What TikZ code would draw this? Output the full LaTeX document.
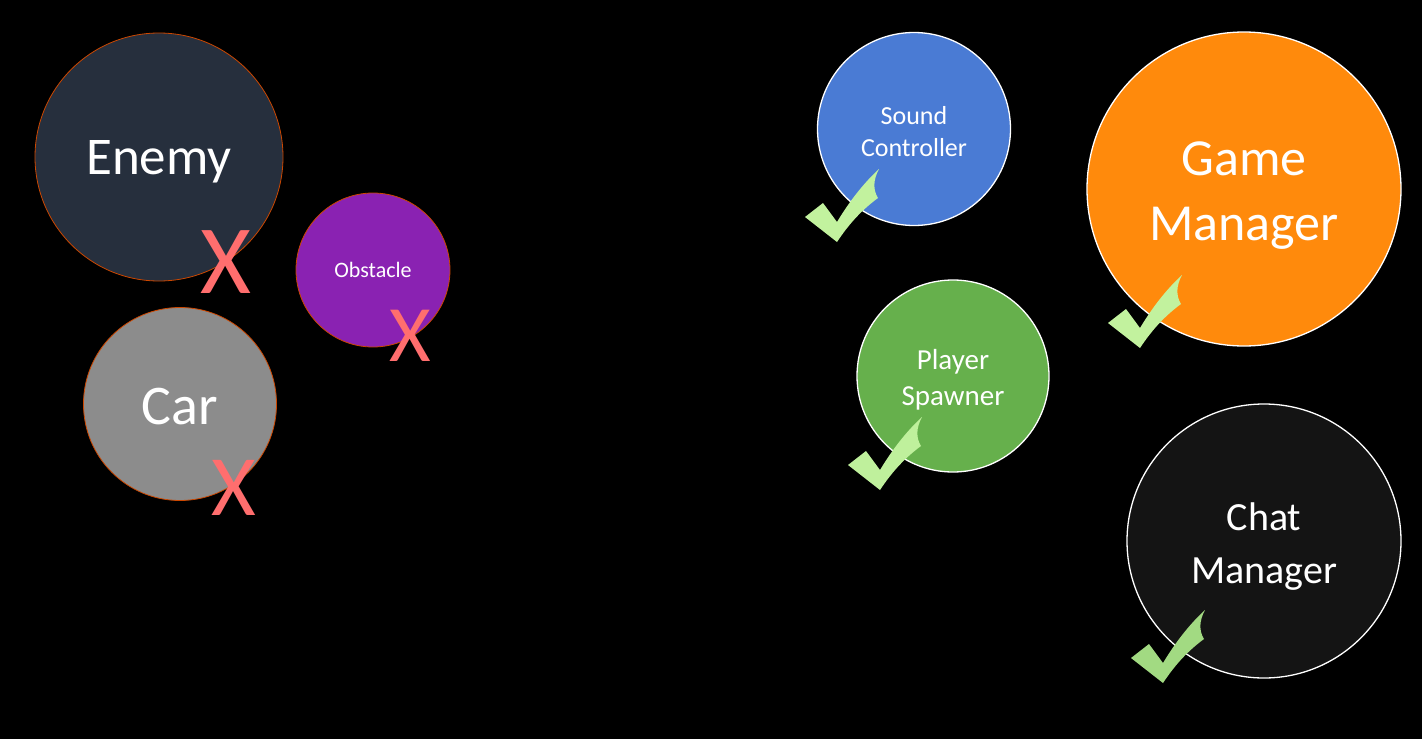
\documentclass[tikz,border=0pt]{standalone}
\usepackage{fontspec}
\setmainfont{Carlito}
\begin{document}
\begin{tikzpicture}[x=1pt,y=-1pt,
  bubble/.style={circle,inner sep=0pt},
  caption/.style={inner sep=0pt,align=center,text=white,font=\fontsize{#1}{#1}\selectfont},
  badbubble/.style={draw=orange!70!red!80!black,line width=0.8pt},
  goodbubble/.style={draw=white,line width=1.3pt},
  cross/.style={text=crossred,inner sep=0pt,font=\fontsize{#1}{#1}\selectfont},
  tickmark/.pic={
    \fill[pic actions] (0,0) -- (-32,-25) -- (-14,-39) -- (0,-20)
      .. controls (15,-45) and (30,-62) .. (42,-73)
      .. controls (36,-62) and (36,-52) .. (41,-44)
      .. controls (22,-30) and (10,-15) .. (0,0) -- cycle;
  }]
\definecolor{enemyfill}{HTML}{262F3D}
\definecolor{obstaclefill}{HTML}{8A22B2}
\definecolor{carfill}{HTML}{8C8C8C}
\definecolor{soundfill}{HTML}{4A7BD4}
\definecolor{gamefill}{HTML}{FF8A0C}
\definecolor{spawnfill}{HTML}{66B04C}
\definecolor{chatfill}{HTML}{141414}
\definecolor{crossred}{HTML}{FF6E6E}
\definecolor{ticklight}{HTML}{C2F29E}
\definecolor{tickdark}{HTML}{A2DA82}

% page background
\fill[black] (0,0) rectangle (1422,739);
\useasboundingbox (0,0) rectangle (1422,739);

% objects that are not singletons
\node[bubble,badbubble,fill=enemyfill,minimum size=248pt] (enemy) at (159,157) {};
\node[bubble,badbubble,fill=obstaclefill,minimum size=154pt] (obstacle) at (373,270) {};
\node[bubble,badbubble,fill=carfill,minimum size=193pt] (car) at (180,404) {};

\node[caption=53] (enemytext) at ([yshift=-5pt]enemy.center) {Enemy};
\node[caption=22] (obstacletext) at (obstacle.center) {Obstacle};
\node[caption=56] (cartext) at ([yshift=-3pt]car.center) {Car};

\node[cross=98] (xenemy) at (226,262) {X};
\node[cross=80] (xobstacle) at (410,336) {X};
\node[cross=86] (xcar) at (234,488) {X};

% singleton managers
\node[bubble,goodbubble,fill=soundfill,minimum size=193pt] (sound) at (914,129) {};
\node[bubble,goodbubble,fill=gamefill,minimum size=314pt] (game) at (1244,189) {};
\node[bubble,goodbubble,fill=spawnfill,minimum size=192pt] (spawner) at (953,376) {};
\node[bubble,goodbubble,fill=chatfill,minimum size=274pt] (chat) at (1264,541) {};

\node[caption=26] (soundtext) at ([yshift=-3pt]sound.center) {Sound\\[6pt]Controller};
\node[caption=52] (gametext) at ([yshift=-7pt]game.center) {Game\\[13pt]Manager};
\node[caption=29] (spawnertext) at ([yshift=-3.5pt]spawner.center) {Player\\[7pt]Spawner};
\node[caption=40] (chattext) at ([yshift=-6pt]chat.center) {Chat\\[13pt]Manager};

\pic[fill=ticklight] (ticksound) at (837,242) {tickmark};
\pic[fill=ticklight] (tickgame) at (1140,348) {tickmark};
\pic[fill=ticklight!92!tickdark] (tickspawner) at (880,490) {tickmark};
\pic[fill=tickdark] (tickchat) at (1163,683) {tickmark};
\end{tikzpicture}
\end{document}
